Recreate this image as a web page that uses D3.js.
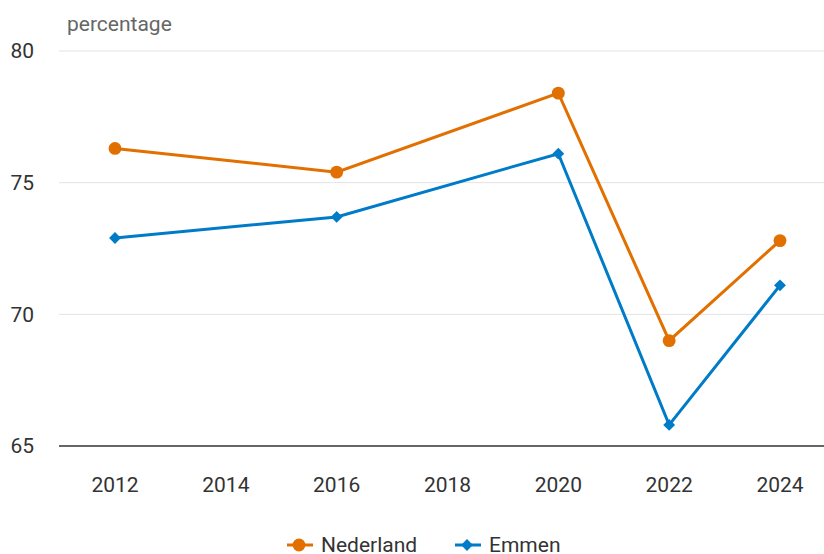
<!DOCTYPE html>
<html>
<head>
<meta charset="utf-8">
<script src="https://cdn.jsdelivr.net/npm/d3@7"></script>
<style>
  body { margin: 0; background: #fff; }
  svg text { font-family: Roboto, "Noto Sans", sans-serif; }
</style>
</head>
<body>
<svg id="chart" width="824" height="554"></svg>
<script>
// data
var years = [2012, 2016, 2020, 2022, 2024];
var nederland = [76.3, 75.4, 78.4, 69.0, 72.8];
var emmen = [72.9, 73.7, 76.1, 65.8, 71.1];
var xTicks = [2012, 2014, 2016, 2018, 2020, 2022, 2024];
var yTicks = [65, 70, 75, 80];
var seriesNames = ['Nederland', 'Emmen'];
var colors = ['#e17000', '#007bc7'];

var svg = d3.select('#chart');
var plotLeft = 59, plotRight = 824, plotTop = 51, plotBottom = 446;

var x = d3.scaleLinear().domain([2012, 2024]).range([115, 780]);
var y = d3.scaleLinear().domain([65, 80]).range([plotBottom, plotTop]);

// gridlines
svg.append('g').selectAll('line').data(yTicks.slice(1)).enter().append('line')
    .attr('x1', plotLeft).attr('x2', plotRight)
    .attr('y1', function (d) { return y(d); }).attr('y2', function (d) { return y(d); })
    .attr('stroke', '#e3e3e3').attr('stroke-width', 1);

// baseline
svg.append('line')
    .attr('x1', plotLeft).attr('x2', plotRight)
    .attr('y1', y(65)).attr('y2', y(65))
    .attr('stroke', '#333').attr('stroke-width', 1.5);

// y labels
svg.append('g').selectAll('text').data(yTicks).enter().append('text')
    .attr('x', 34).attr('y', function (d) { return y(d); })
    .attr('dy', '0.35em').attr('text-anchor', 'end')
    .attr('font-size', 21).attr('fill', '#333')
    .text(function (d) { return d; });

// axis title
svg.append('text').attr('x', 67).attr('y', 31)
    .attr('font-size', 21).attr('fill', '#666').text('percentage');

// x labels
svg.append('g').selectAll('text').data(xTicks).enter().append('text')
    .attr('x', function (d) { return x(d); }).attr('y', 492)
    .attr('text-anchor', 'middle').attr('font-size', 21).attr('fill', '#333')
    .text(function (d) { return d; });

var line = d3.line()
    .x(function (d) { return x(d[0]); })
    .y(function (d) { return y(d[1]); });

var symCircle = d3.symbol().type(d3.symbolCircle).size(130);
var symSquare = d3.symbol().type(d3.symbolSquare).size(70);

function marker(sel, i) {
    sel.attr('d', i == 0 ? symCircle : symSquare)
        .attr('fill', colors[i]);
}

[nederland, emmen].forEach(function (vals, i) {
    var pts = years.map(function (yr, j) { return [yr, vals[j]]; });
    svg.append('path').datum(pts)
        .attr('d', line).attr('fill', 'none')
        .attr('stroke', colors[i]).attr('stroke-width', 3);
    svg.append('g').selectAll('path').data(pts).enter().append('path')
        .call(marker, i)
        .attr('transform', function (d) {
            return 'translate(' + x(d[0]) + ',' + y(d[1]) + ')' + (i == 1 ? ' rotate(45)' : '');
        });
});

// legend
var legendX = [287, 455];
seriesNames.forEach(function (name, i) {
    var g = svg.append('g').attr('transform', 'translate(' + legendX[i] + ',545)');
    g.append('line').attr('x1', 0).attr('x2', 26).attr('y1', 0).attr('y2', 0)
        .attr('stroke', colors[i]).attr('stroke-width', 3);
    g.append('path').call(marker, i)
        .attr('transform', 'translate(12,0)' + (i == 1 ? ' rotate(45)' : ''));
    g.append('text').attr('x', 34).attr('y', 0).attr('dy', '0.35em')
        .attr('font-size', 21).attr('fill', '#333').text(name);
});
</script>
</body>
</html>
